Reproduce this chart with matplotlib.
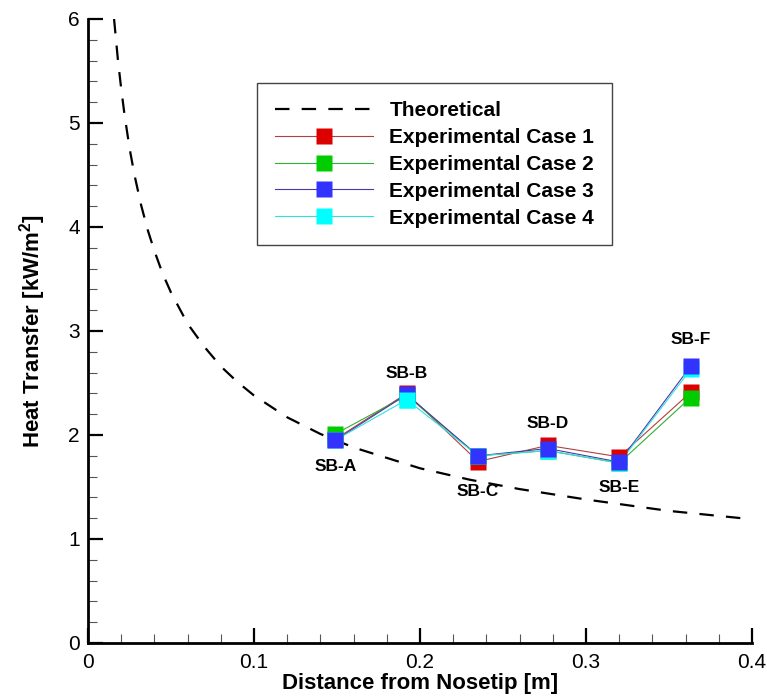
import matplotlib
matplotlib.use('Agg')
import matplotlib.pyplot as plt
from matplotlib.lines import Line2D
from matplotlib.ticker import MultipleLocator

plt.rcParams['font.family'] = ['Liberation Sans', 'DejaVu Sans']
plt.rcParams['mathtext.fontset'] = 'custom'
plt.rcParams['mathtext.bf'] = 'Liberation Sans:bold'
plt.rcParams['mathtext.rm'] = 'Liberation Sans'

# theoretical curve
theory_x = [0.0157, 0.018, 0.020, 0.022, 0.025, 0.028, 0.032, 0.036, 0.040, 0.045,
            0.050, 0.060, 0.070, 0.080, 0.090, 0.100, 0.120, 0.140, 0.160, 0.180,
            0.200, 0.230, 0.260, 0.300, 0.350, 0.400]
theory_y = [6.00, 5.61, 5.33, 5.08, 4.76, 4.50, 4.21, 3.97, 3.77, 3.55,
            3.37, 3.07, 2.85, 2.66, 2.51, 2.38, 2.17, 2.01, 1.88, 1.78,
            1.68, 1.57, 1.48, 1.38, 1.27, 1.19]

# sensor positions
sensors = ['SB-A', 'SB-B', 'SB-C', 'SB-D', 'SB-E', 'SB-F']
sensor_x = [0.149, 0.192, 0.235, 0.277, 0.320, 0.363]

case1 = [1.96, 2.40, 1.745, 1.90, 1.79, 2.41]
case2 = [2.01, 2.38, 1.80, 1.85, 1.73, 2.36]
case3 = [1.95, 2.39, 1.80, 1.87, 1.74, 2.66]
case4 = [1.95, 2.34, 1.80, 1.85, 1.73, 2.63]

case_labels = ['Experimental Case 1', 'Experimental Case 2',
               'Experimental Case 3', 'Experimental Case 4']

x_ticks = [0, 0.1, 0.2, 0.3, 0.4]
x_ticklabels = ['0', '0.1', '0.2', '0.3', '0.4']
y_ticks = [0, 1, 2, 3, 4, 5, 6]
y_ticklabels = ['0', '1', '2', '3', '4', '5', '6']

# styles
line_colors = ['#b04040', '#30b030', '#4a3aa8', '#30e0e0']
face_colors = ['#dd0000', '#00cc00', '#3333ff', '#00ffff']
label_offsets = [-19, 15, -26, 18, -18, 19]   # points, above(+)/below(-) marker

fig = plt.figure(figsize=(7.67, 6.98), dpi=100)
ax = fig.add_axes([88/767, 55/698, 664/767, 624/698])

ax.plot(theory_x, theory_y, color='black', lw=1.6, dashes=(6.5, 5.5), zorder=2)

cases = [case1, case2, case3, case4]
for vals, lc in zip(cases, line_colors):
    ax.plot(sensor_x, vals, '-', color=lc, lw=0.8, zorder=3)

# markers: red, green, cyan, blue; cyan shows on top only at SB-B
ax.plot(sensor_x, case1, 's', ms=11, mfc=face_colors[0], mec='none', zorder=4)
ax.plot(sensor_x, case2, 's', ms=11, mfc=face_colors[1], mec='none', zorder=5)
ax.plot(sensor_x, case4, 's', ms=11, mfc=face_colors[3], mec='none', zorder=6)
ax.plot(sensor_x, case3, 's', ms=11, mfc=face_colors[2], mec='none', zorder=7)
ax.plot(sensor_x, case4, 's', ms=11, mfc=face_colors[3], mec='none', zorder=8,
        markevery=[1])

for name, x, y, off in zip(sensors, sensor_x, case3, label_offsets):
    ax.annotate(name, xy=(x, y), xytext=(0, off), textcoords='offset points',
                ha='center', va='center', fontsize=12.5, fontweight='bold')

handles = [Line2D([], [], color='black', lw=1.6, dashes=(6.5, 5.5))]
for lc, fc in zip(line_colors, face_colors):
    handles.append(Line2D([], [], color=lc, lw=0.8, marker='s', ms=11,
                          mfc=fc, mec='none'))
leg = ax.legend(handles, ['Theoretical'] + case_labels, loc='upper left',
                bbox_to_anchor=(0.2545, 0.897), borderaxespad=0,
                fancybox=False, framealpha=1, edgecolor='#444444',
                prop={'weight': 'bold', 'size': 15}, handlelength=4.7,
                handletextpad=0.8, labelspacing=0.38, borderpad=0.85,
                numpoints=1)
leg.get_frame().set_linewidth(1.0)

ax.set_xlim(0, 0.4)
ax.set_ylim(0, 6)
ax.set_xticks(x_ticks)
ax.set_xticklabels(x_ticklabels)
ax.set_yticks(y_ticks)
ax.set_yticklabels(y_ticklabels)
ax.xaxis.set_minor_locator(MultipleLocator(0.02))
ax.yaxis.set_minor_locator(MultipleLocator(0.2))

for side in ['top', 'right']:
    ax.spines[side].set_visible(False)
for side in ['left', 'bottom']:
    ax.spines[side].set_linewidth(2.0)

ax.tick_params(which='major', direction='in', length=11, width=1.6,
               labelsize=15, pad=6)
ax.tick_params(axis='x', which='major', pad=7)
ax.tick_params(which='minor', direction='in', length=6.5, width=0.8,
               color='#555555')

ax.set_xlabel('Distance from Nosetip [m]', fontsize=16, fontweight='bold',
              labelpad=1)
ax.set_ylabel(r'Heat Transfer [kW/m$^{\mathbf{2}}$]', fontsize=16,
              fontweight='bold', labelpad=14)

fig.savefig('out.png', dpi=100)
